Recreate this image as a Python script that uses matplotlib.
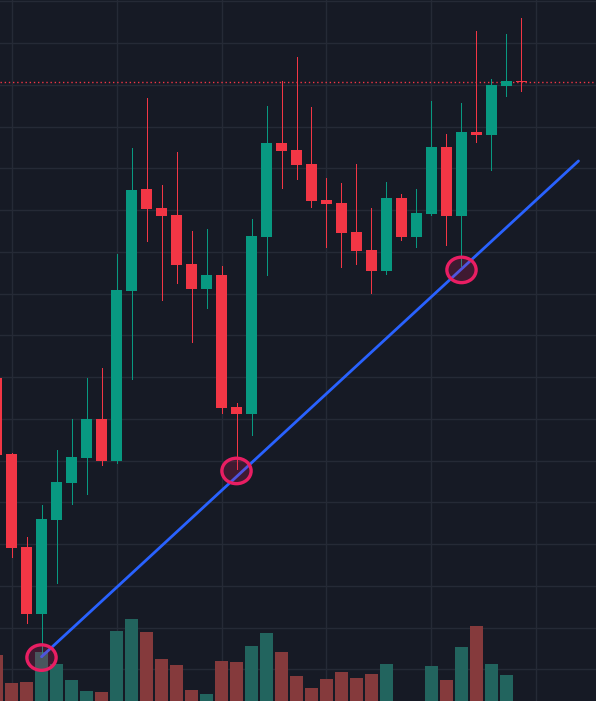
import numpy as np
import matplotlib
matplotlib.use("Agg")
import matplotlib.pyplot as plt
from matplotlib.patches import Ellipse

# OHLC values, candle index 0..35
opens = [113.95, 110.31, 105.86, 102.65, 107.15, 108.92, 110.12, 111.99, 109.98, 118.12,
         123.01, 122.10, 121.76, 119.42, 118.22, 118.89, 112.56, 112.23, 120.71, 125.21,
         124.88, 124.21, 122.48, 122.34, 120.95, 120.09, 119.08, 122.58, 120.71, 121.81,
         125.02, 121.72, 125.74, 125.59, 127.94, 128.18]
highs = [114.34, 110.36, 106.34, 107.87, 110.51, 111.99, 113.95, 114.43, 119.89, 124.97,
         127.37, 123.20, 124.78, 121.00, 121.09, 119.32, 112.76, 121.57, 126.98, 128.18,
         129.33, 126.94, 123.54, 123.30, 124.21, 122.10, 123.34, 122.77, 123.01, 127.22,
         125.64, 127.13, 130.58, 128.28, 130.43, 131.20]
lows = [109.93, 105.38, 102.22, 100.59, 104.13, 107.92, 108.40, 109.79, 109.88, 113.91,
        120.52, 117.69, 118.51, 115.68, 117.31, 112.28, 109.59, 111.22, 118.89, 123.06,
        123.49, 122.15, 120.23, 119.27, 119.42, 118.03, 118.94, 120.57, 120.23, 121.76,
        120.33, 119.32, 125.26, 123.92, 127.46, 127.70]
closes = [110.27, 105.81, 102.65, 107.20, 108.97, 110.17, 111.99, 109.98, 118.17, 122.96,
          122.05, 121.72, 119.37, 118.22, 118.89, 112.52, 112.23, 120.76, 125.21, 124.83,
          124.16, 122.43, 122.29, 120.90, 120.04, 119.08, 122.58, 120.71, 121.86, 125.02,
          121.72, 125.74, 125.59, 127.99, 128.18, 128.12]
volumes = [1150, 450, 475, 1225, 925, 525, 250, 225, 1750, 2050,
           1725, 1050, 900, 275, 175, 1000, 975, 1375, 1700, 1225,
           625, 325, 550, 725, 575, 675, 925, 0, 0, 875,
           525, 1350, 1875, 925, 650, 0]

# trend line anchors and the three touch points
trend_x = [3, 38.8]
trend_y = [100.6, 124.35]
touch_x = [3, 16, 31]
touch_y = [100.56, 109.50, 119.13]

BG = "#161a25"
GRID = "#252a36"
UP = "#089981"
DOWN = "#f23645"
VOL_UP = "#22645e"
VOL_DOWN = "#853a3c"

def main():
    n = len(opens)
    x = np.arange(n)
    o = np.array(opens)
    c = np.array(closes)
    up = c >= o

    fig = plt.figure(figsize=(5.96, 7.01), dpi=100, facecolor=BG)

    # volume panel underneath, shares the x axis
    vax = fig.add_axes([0, 0, 1, 1], facecolor=BG)
    ax = fig.add_axes([0, 0, 1, 1], sharex=vax, facecolor="none")

    ymin, ymax = 98.48, 132.06
    vmax = 17525
    vax.set_xlim(0.233, 39.967)
    vax.set_ylim(0, vmax)
    ax.set_ylim(ymin, ymax)

    # grid lives on the bottom axes so volume bars sit over it
    for gx in range(1, 40, 7):
        vax.axvline(gx, color=GRID, lw=1, zorder=0)
    for gy in np.arange(100, 133, 2):
        yv = (gy - ymin) / (ymax - ymin) * vmax
        vax.axhline(yv, color=GRID, lw=1, zorder=0)

    vcols = [VOL_UP if u else VOL_DOWN for u in up]
    vax.bar(x, volumes, width=0.93, color=vcols, zorder=2, linewidth=0)

    # candles
    cols = [UP if u else DOWN for u in up]
    ax.vlines(x, lows, highs, colors=cols, lw=0.72, antialiased=False, zorder=3)
    bottoms = np.minimum(o, c)
    heights = np.maximum(np.abs(c - o), 0.07)
    ax.bar(x, heights, bottom=bottoms, width=0.733, color=cols, linewidth=0, zorder=4)

    # last price line
    ax.axhline(closes[-1], color=DOWN, lw=1.0, ls=(0, (1, 2)), zorder=2)

    # trend line
    ax.plot(trend_x, trend_y, color="#2962ff", lw=2, solid_capstyle="round", zorder=5)

    for tx, ty in zip(touch_x, touch_y):
        e = Ellipse((tx, ty), width=1.95, height=1.22, facecolor=(0.91, 0.12, 0.39, 0.2),
                    edgecolor="#e91e63", lw=2.4, zorder=6)
        ax.add_patch(e)

    for a in (ax, vax):
        a.set_xticks([])
        a.set_yticks([])
        for s in a.spines.values():
            s.set_visible(False)

    fig.savefig("out.png", dpi=100, facecolor=BG)


if __name__ == "__main__":
    main()
